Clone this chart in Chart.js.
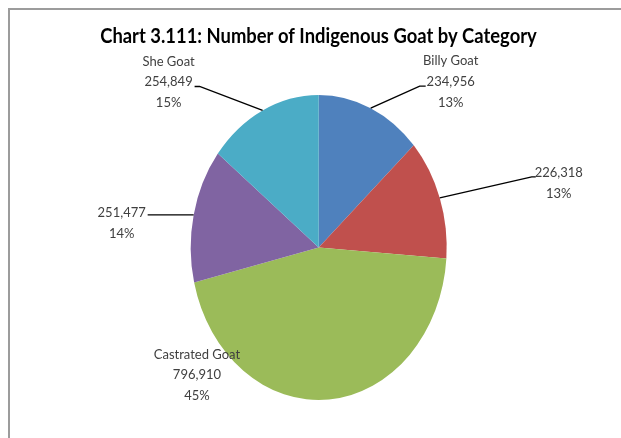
<!DOCTYPE html>
<html>
<head>
<meta charset="utf-8">
<script src="https://cdn.jsdelivr.net/npm/chart.js@4.4.1/dist/chart.umd.min.js"></script>
<style>
  html, body { margin: 0; padding: 0; background: #fff; }
  #wrap { position: relative; width: 621px; height: 438px; overflow: hidden; }
  #frame { position: absolute; left: 8px; top: 8px; width: 640px; height: 460px;
           border-left: 2px solid #9c9c9c; border-top: 2px solid #9c9c9c; }
  #chart { position: absolute; left: 0; top: 0; }
</style>
</head>
<body>
<div id="wrap">
  <div id="frame"></div>
  <canvas id="chart" width="621" height="438"></canvas>
</div>
<script>
var chartTitle = 'Chart 3.111: Number of Indigenous Goat by Category';
var categories = ['Billy Goat', '', 'Castrated Goat', '', 'She Goat'];
var goatCounts = [234956, 226318, 796910, 251477, 254849];
var percentLabels = ['13%', '13%', '45%', '14%', '15%'];
var sliceColors = ['#4f81bd', '#c0504d', '#9bbb59', '#8064a2', '#4bacc6'];

// the pie in the picture is taller than wide
var STRETCH = 152.5 / 128;

// where each label sits, relative to the outer middle of its slice
var labelPlaces = [
    { text: [80, -47], elbow: [49, -22], end: [55, -22] },
    { text: [119, -25], elbow: [92, -21], end: [96, -21] },
    { text: [-132, -45], elbow: null },
    { text: [-72, -2], elbow: [-46, 0], end: [-46, 0] },
    { text: [-94, -49], elbow: [-63, -24], end: [-68, -24] }
];

var goatLabels = {
    id: 'goatLabels',
    beforeDatasetsDraw: function(chart) {
        var arc = chart.getDatasetMeta(0).data[0];
        var ctx = chart.ctx;
        ctx.save();
        ctx.translate(arc.x, arc.y);
        ctx.scale(1, STRETCH);
        ctx.translate(-arc.x, -arc.y);
    },
    afterDatasetsDraw: function(chart) {
        var ctx = chart.ctx;
        ctx.restore();

        // title, squeezed a little since Calibri is narrow
        ctx.save();
        ctx.fillStyle = '#000';
        ctx.font = 'bold 20px Lato';
        ctx.textAlign = 'center';
        ctx.textBaseline = 'middle';
        ctx.translate(318.5, 37);
        ctx.scale(0.92, 1);
        ctx.fillText(chartTitle, 0, 0);
        ctx.restore();

        ctx.save();
        ctx.font = '13px Lato';
        ctx.textAlign = 'center';
        ctx.textBaseline = 'middle';
        chart.getDatasetMeta(0).data.forEach(function(arc, i) {
            var p = arc.getProps(['x', 'y', 'startAngle', 'endAngle', 'outerRadius']);
            var mid = (p.startAngle + p.endAngle) / 2;
            var ax = p.x + Math.cos(mid) * p.outerRadius;
            var ay = p.y + Math.sin(mid) * p.outerRadius * STRETCH;
            var place = labelPlaces[i];

            if (place.elbow) {
                ctx.strokeStyle = '#000';
                ctx.lineWidth = 1.4;
                ctx.beginPath();
                ctx.moveTo(ax, ay);
                ctx.lineTo(ax + place.elbow[0], ay + place.elbow[1]);
                ctx.lineTo(ax + place.end[0], ay + place.end[1]);
                ctx.stroke();
            }

            var lines = [];
            if (categories[i]) lines.push(categories[i]);
            lines.push(goatCounts[i].toLocaleString('en-US'));
            lines.push(percentLabels[i]);

            ctx.fillStyle = '#404040';
            for (var k = 0; k < lines.length; k++) {
                ctx.fillText(lines[k], ax + place.text[0], ay + place.text[1] + k * 20.6);
            }
        });
        ctx.restore();
    }
};

var ctx = document.getElementById('chart').getContext('2d');
window.goatChart = new Chart(ctx, {
    type: 'pie',
    data: {
        labels: categories,
        datasets: [{
            data: goatCounts,
            backgroundColor: sliceColors,
            borderWidth: 0,
            clip: false
        }]
    },
    options: {
        responsive: false,
        animation: false,
        events: [],
        radius: 128,
        layout: { padding: { left: 100, right: 83.6, top: 100, bottom: 43 } },
        plugins: {
            legend: { display: false },
            title: { display: false },
            tooltip: { enabled: false }
        }
    },
    plugins: [goatLabels]
});
</script>
</body>
</html>
